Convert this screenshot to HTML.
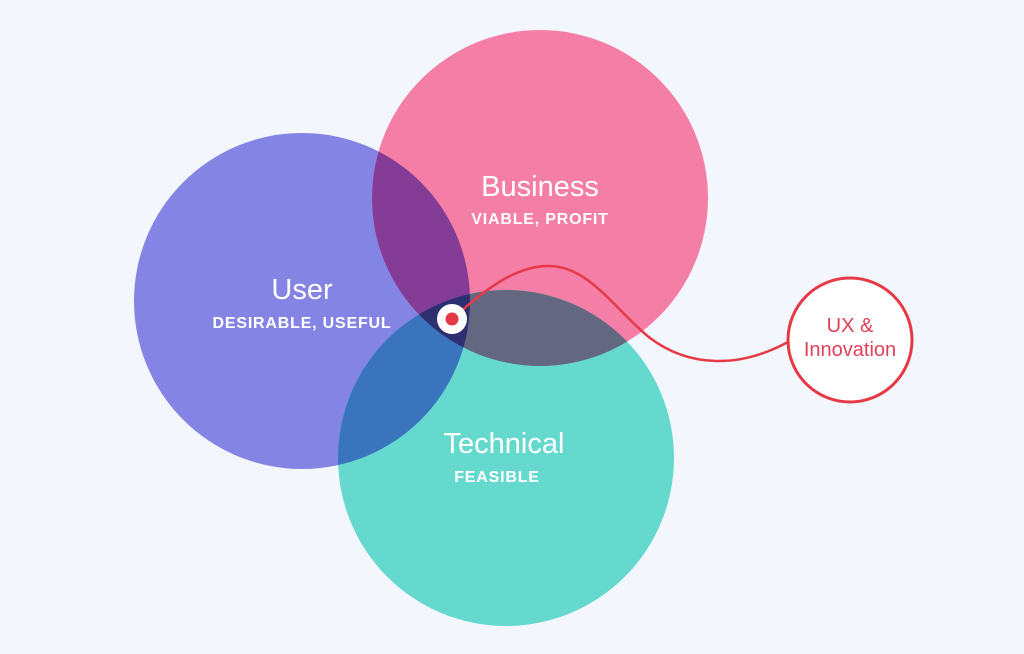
<!DOCTYPE html>
<html><head><meta charset="utf-8"><style>
html,body{margin:0;padding:0;background:#f3f7fd;}
svg{display:block;}
text{font-family:"Liberation Sans",sans-serif;fill:#fff;text-anchor:middle;}
</style></head><body>
<svg width="1024" height="654" viewBox="0 0 1024 654" xmlns="http://www.w3.org/2000/svg">
<defs>
<clipPath id="cu"><circle cx="302" cy="301" r="168"/></clipPath>
<clipPath id="cb"><circle cx="540" cy="198" r="168"/></clipPath>
<clipPath id="ct"><circle cx="506" cy="458" r="168"/></clipPath>
</defs>
<rect width="1024" height="654" fill="#f3f7fd"/>
<circle cx="302" cy="301" r="168" fill="#8484e4"/>
<circle cx="540" cy="198" r="168" fill="#f47ea6"/>
<circle cx="506" cy="458" r="168" fill="#66d9cf"/>
<g clip-path="url(#cu)"><circle cx="540" cy="198" r="168" fill="#853c96"/><circle cx="506" cy="458" r="168" fill="#3974bd"/></g>
<g clip-path="url(#cb)"><circle cx="506" cy="458" r="168" fill="#646780"/></g>
<g clip-path="url(#cu)"><g clip-path="url(#cb)"><circle cx="506" cy="458" r="168" fill="#2e2f70"/></g></g>
<text x="302" y="299" font-size="29">User</text>
<text x="302" y="328" font-size="16" font-weight="bold" letter-spacing="0.8">DESIRABLE, USEFUL</text>
<text x="540" y="196" font-size="29">Business</text>
<text x="540" y="224" font-size="16" font-weight="bold" letter-spacing="0.8">VIABLE, PROFIT</text>
<text x="504" y="453" font-size="29">Technical</text>
<text x="497" y="482" font-size="16" font-weight="bold" letter-spacing="0.8">FEASIBLE</text>
<path d="M458,314 C490,285 520,265 550,266 C590,267 615,310 650,338 C690,368 740,368 788,342" fill="none" stroke="#e63946" stroke-width="2.5"/>
<circle cx="452" cy="319" r="15" fill="#fff"/>
<circle cx="452" cy="319" r="6.5" fill="#e63946"/>
<circle cx="850" cy="340" r="62" fill="#fff" stroke="#e63946" stroke-width="3"/>
<text x="850" y="332" font-size="20" style="fill:#e04057">UX &amp;</text>
<text x="850" y="356" font-size="20" style="fill:#e04057">Innovation</text>
</svg>
</body></html>
